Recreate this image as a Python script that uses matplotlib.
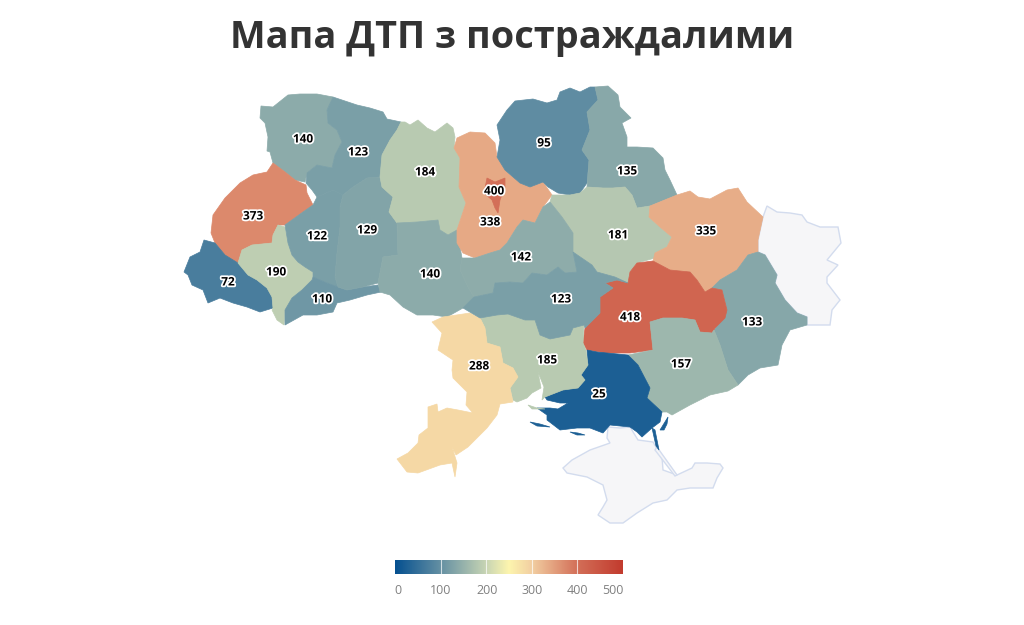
#!/usr/bin/env python3

import matplotlib
matplotlib.use("Agg")
import matplotlib.patheffects as pe
import matplotlib.pyplot as plt
import numpy as np
from matplotlib.colors import LinearSegmentedColormap


TITLE = "Мапа ДТП з постраждалими"

# outlines in map units (y grows downwards), one list per oblast
VOLYN = [(288,95),(300,94),(317,94),(333,97),(327,110),(328,123),(337,130),(342,142),(335,155),(332,168),(317,165),(307,173),(305,182),(295,180),(285,172),(273,163),(270,152),(267,151),(268,137),(265,123),(260,118),(261,106),(273,107)]
RIVNE = [(333,97),(345,101),(357,105),(370,108),(383,112),(387,119),(401,122),(397,130),(390,140),(382,155),(380,177),(367,178),(353,187),(343,195),(333,190),(317,197),(312,190),(306,183),(307,173),(317,165),(332,168),(335,155),(342,142),(337,130),(328,123),(327,110)]
LVIV = [(273,163),(285,172),(295,180),(306,185),(307,193),(313,205),(303,212),(285,225),(278,225),(273,235),(272,243),(252,245),(242,250),(238,263),(225,255),(215,243),(211,233),(213,215),(225,198),(240,183),(253,175),(267,172)]
ZAKARPATTIA = [(204,240),(215,243),(225,255),(238,263),(248,275),(257,280),(267,288),(272,297),(273,308),(260,312),(247,307),(233,303),(220,298),(208,303),(203,290),(192,285),(188,275),(184,272),(190,257),(200,252)]
FRANKIVSK = [(278,225),(285,227),(288,243),(292,255),(298,262),(305,267),(313,272),(312,280),(302,290),(292,298),(285,310),(284,325),(277,320),(272,310),(273,308),(272,297),(267,288),(257,280),(248,275),(238,263),(242,250),(252,245),(272,243),(273,235)]
TERNOPIL = [(285,225),(303,212),(313,205),(317,197),(333,190),(343,195),(340,207),(340,227),(337,253),(335,277),(338,287),(327,283),(313,277),(313,272),(305,267),(298,262),(292,255),(288,243)]
CHERNIVTSI = [(313,277),(327,283),(338,287),(347,290),(363,287),(378,285),(381,292),(367,295),(350,300),(337,303),(333,312),(317,315),(303,315),(285,325),(285,310),(292,298),(302,290),(312,280)]
KHMELNYTSKYI = [(380,177),(382,187),(393,197),(389,212),(397,223),(398,255),(383,257),(378,283),(363,287),(347,290),(338,287),(335,277),(337,253),(340,227),(340,207),(343,195),(353,187),(367,178)]
ZHYTOMYR = [(401,122),(405,122),(410,125),(418,120),(427,128),(435,132),(447,123),(453,128),(455,137),(454,148),(460,158),(459,187),(466,203),(457,230),(448,235),(440,230),(438,220),(417,222),(397,223),(389,212),(393,197),(382,187),(380,177),(382,155),(390,140),(397,130)]
VINNYTSIA = [(397,223),(417,222),(438,220),(440,230),(448,235),(457,230),(462,258),(460,270),(468,287),(474,297),(463,308),(447,317),(433,315),(417,315),(403,307),(390,295),(380,292),(378,283),(383,257),(398,255)]
KYIV_OBL = [(454,148),(457,138),(470,132),(485,133),(495,143),(497,157),(505,170),(520,183),(530,187),(543,182),(552,195),(543,207),(535,223),(523,220),(517,227),(507,243),(500,250),(490,253),(475,258),(463,253),(457,243),(457,230),(466,203),(459,187),(460,158)]
KYIV_CITY = [(487,178),(495,182),(505,178),(505,187),(500,200),(498,213),(495,208),(492,200),(484,193)]
CHERNIHIV = [(560,92),(570,88),(580,92),(590,87),(595,87),(598,100),(587,112),(590,130),(582,150),(589,160),(587,183),(580,193),(570,195),(558,193),(548,187),(543,182),(530,187),(520,183),(505,170),(497,157),(500,140),(497,125),(507,110),(515,101),(533,99),(547,103),(557,100)]
SUMY = [(595,87),(608,86),(618,95),(620,107),(631,118),(622,123),(627,137),(627,147),(637,147),(653,148),(663,158),(665,170),(670,180),(677,195),(650,206),(637,208),(632,195),(625,187),(613,188),(603,188),(587,187),(589,160),(582,150),(590,130),(587,112),(598,100)]
POLTAVA = [(552,195),(570,195),(580,193),(587,187),(603,188),(613,188),(625,187),(632,195),(637,208),(650,206),(649,217),(660,227),(672,237),(667,247),(655,253),(655,258),(637,263),(630,272),(628,283),(615,277),(597,272),(592,265),(573,252),(573,233),(562,217),(550,202)]
KHARKIV = [(650,206),(677,195),(690,191),(698,197),(710,199),(727,190),(738,188),(747,202),(763,217),(758,240),(758,252),(748,255),(737,270),(720,280),(712,288),(705,292),(697,280),(690,272),(670,270),(653,261),(655,253),(667,247),(672,237),(660,227),(649,217)]
LUHANSK = [(767,206),(777,212),(790,213),(802,215),(807,222),(820,227),(838,227),(841,243),(827,260),(838,265),(827,277),(827,283),(840,300),(832,310),(830,325),(807,325),(807,317),(797,313),(785,300),(775,283),(777,275),(765,255),(758,252),(758,240),(763,217)]
DONETSK = [(758,252),(765,255),(777,275),(775,283),(785,300),(797,313),(807,317),(807,325),(790,330),(782,345),(778,365),(760,368),(748,375),(738,385),(728,370),(720,345),(714,330),(727,310),(722,290),(712,288),(720,280),(737,270),(748,255)]
DNIPRO = [(630,272),(637,263),(653,261),(670,270),(690,272),(697,280),(705,292),(712,288),(722,290),(727,310),(725,318),(715,328),(712,333),(700,332),(695,320),(682,318),(663,318),(650,322),(653,350),(630,353),(607,353),(587,350),(583,343),(585,328),(600,313),(600,297),(613,288),(605,283),(617,280),(628,283)]
ZAPORIZHZHIA = [(650,322),(663,318),(682,318),(695,320),(700,332),(712,333),(714,330),(720,345),(728,370),(738,385),(728,391),(710,395),(690,405),(672,415),(667,412),(662,412),(647,398),(650,388),(638,365),(628,355),(653,350)]
KHERSON = [(587,350),(597,352),(607,353),(628,355),(638,365),(650,388),(647,398),(662,412),(660,422),(652,428),(642,437),(637,432),(630,427),(610,425),(603,433),(590,428),(577,428),(560,430),(547,420),(547,415),(537,408),(550,408),(558,409),(568,403),(560,403),(547,400),(545,397),(563,390),(578,388),(585,380),(581,375),(588,365)]
KHERSON_ISLET_A = [(530,422),(540,424),(550,427),(537,426)]
KHERSON_ISLET_B = [(570,432),(578,433),(585,435),(577,435)]
KHERSON_SPIT_A = [(652,428),(655,430),(659,450),(656,446)]
KHERSON_SPIT_B = [(660,430),(668,417),(667,424),(664,430)]
MYKOLAIV = [(480,318),(497,315),(508,314),(525,320),(535,320),(540,335),(550,339),(570,335),(573,328),(584,325),(583,343),(586,350),(588,365),(581,375),(585,380),(578,388),(563,390),(545,397),(542,400),(544,387),(538,372),(541,388),(532,393),(527,398),(517,402),(513,400),(510,388),(518,377),(513,368),(503,363),(500,347),(487,343),(485,328)]
MYKOLAIV_SPIT = [(528,405),(537,408),(545,409),(532,409)]
ODESA = [(432,322),(443,317),(470,313),(480,318),(485,328),(487,343),(500,347),(503,363),(513,368),(518,377),(510,388),(513,402),(500,404),(497,415),(487,428),(468,447),(456,455),(452,447),(457,463),(455,477),(452,463),(440,465),(418,473),(407,472),(397,459),(408,453),(418,443),(419,435),(428,428),(428,407),(437,404),(438,412),(447,408),(458,410),(473,413),(484,426),(466,405),(467,392),(453,378),(452,370),(453,360),(438,350),(442,333)]
CHERKASY = [(462,258),(475,258),(490,253),(500,250),(507,243),(517,227),(523,220),(535,223),(543,207),(550,202),(562,217),(573,233),(573,252),(577,272),(565,273),(558,267),(547,275),(532,273),(523,283),(510,282),(495,283),(493,293),(474,297),(468,287),(460,270)]
KIROVOHRAD = [(463,308),(474,297),(493,293),(495,283),(510,282),(523,283),(532,273),(547,275),(558,267),(565,273),(577,272),(573,252),(592,265),(597,272),(615,277),(628,283),(617,280),(605,283),(613,288),(600,297),(600,313),(585,328),(584,325),(573,328),(570,335),(550,339),(540,335),(535,320),(525,320),(508,314),(497,315),(480,318)]
CRIMEA = [(608,427),(607,438),(610,443),(590,450),(572,460),(563,468),(567,473),(587,477),(603,485),(607,500),(603,507),(598,515),(610,523),(623,523),(637,513),(653,503),(667,500),(677,490),(690,488),(713,488),(717,478),(723,468),(720,464),(707,463),(695,463),(692,468),(677,475),(663,470),(662,457),(653,442),(638,440),(630,427),(620,428)]
ARABAT = [(657,447),(677,475),(675,476),(655,450)]

REGION_SHAPES = [[VOLYN], [RIVNE], [LVIV], [ZAKARPATTIA], [FRANKIVSK], [TERNOPIL], [CHERNIVTSI],
                 [KHMELNYTSKYI], [ZHYTOMYR], [VINNYTSIA], [KYIV_OBL], [CHERNIHIV], [SUMY], [POLTAVA],
                 [KHARKIV], [DONETSK], [DNIPRO], [ZAPORIZHZHIA],
                 [KHERSON, KHERSON_ISLET_A, KHERSON_ISLET_B, KHERSON_SPIT_A, KHERSON_SPIT_B],
                 [MYKOLAIV, MYKOLAIV_SPIT], [ODESA], [CHERKASY], [KIROVOHRAD], [KYIV_CITY]]
REGION_VALUES = [140, 123, 373, 72, 190, 122, 110, 129, 184, 140, 338, 95, 135, 181,
                 335, 133, 418, 157, 25, 185, 288, 142, 123, 400]
LABEL_X = [303, 358, 253, 228, 276, 317, 322, 367, 425, 430, 490, 544, 627, 618,
           706, 752, 630, 681, 599, 547, 479, 521, 561, 494]
LABEL_Y = [139, 152, 216, 282, 272, 236, 299, 230, 172, 274, 222, 143, 171, 235,
           231, 322, 317, 364, 394, 360, 366, 257, 299, 191]
NO_DATA_SHAPES = [LUHANSK, CRIMEA, ARABAT]

LEGEND_STOPS = [0, 100, 200, 250, 300, 400, 500]
LEGEND_COLORS = ["#055090", "#6590a3", "#c8d5b4", "#fdf5ae", "#f2cfa2", "#d36f58", "#c23b2e"]
LEGEND_TICKS = [0, 100, 200, 300, 400, 500]
LEGEND_TICK_X = [7, 101, 202, 300, 401, 478]


def main():
    plt.rcParams["font.family"] = ["Open Sans", "DejaVu Sans"]

    cmap = LinearSegmentedColormap.from_list(
        "dtp", [(s / 500, c) for s, c in zip(LEGEND_STOPS, LEGEND_COLORS)]
    )

    fig = plt.figure(figsize=(10.24, 6.25), dpi=100)
    ax = fig.add_axes([0, 0, 1, 1])
    ax.set_xlim(0, 1024)
    ax.set_ylim(625, 0)
    ax.axis("off")

    for outline in NO_DATA_SHAPES:
        xs, ys = zip(*outline)
        ax.fill(xs, ys, facecolor="#f6f6f8", edgecolor="#d3dcee", linewidth=1.0, zorder=1)

    for shapes, value in zip(REGION_SHAPES, REGION_VALUES):
        color = cmap(value / 500)
        for outline in shapes:
            xs, ys = zip(*outline)
            ax.fill(xs, ys, facecolor=color, edgecolor=color, linewidth=0.5, zorder=2)

    halo = [pe.withStroke(linewidth=2.5, foreground="white")]
    for x, y, value in zip(LABEL_X, LABEL_Y, REGION_VALUES):
        ax.text(x, y, str(value), ha="center", va="center", fontsize=8.5, fontweight="bold",
                color="black", path_effects=halo, zorder=5)

    ax.text(512.5, 38, TITLE, ha="center", va="center", fontsize=27.3, fontweight="bold",
            color="#333333")

    # gradient legend, white gaps every 100
    cax = fig.add_axes([395 / 1024, 1 - 574 / 625, 228 / 1024, 14 / 625])
    cax.imshow(np.linspace(0, 1, 256).reshape(1, -1), aspect="auto", cmap=cmap,
               extent=(0, 500, 0, 1))
    for value in LEGEND_TICKS[1:-1]:
        cax.axvline(value, color="white", linewidth=0.8, alpha=0.7)
    cax.axis("off")
    for tick, x in zip(LEGEND_TICKS, LEGEND_TICK_X):
        cax.text(x, -0.75, str(tick), ha="center", va="top", fontsize=9, color="#808080",
                 clip_on=False)

    fig.savefig("out.png", dpi=100)


if __name__ == "__main__":
    main()
